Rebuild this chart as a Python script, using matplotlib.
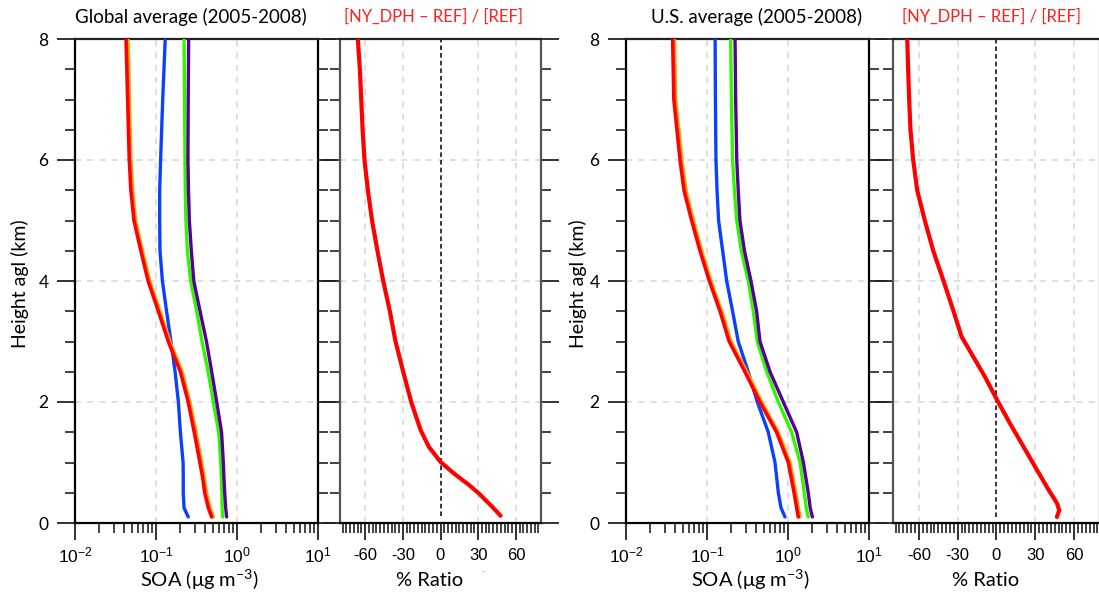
import math
import matplotlib
matplotlib.use("Agg")
import matplotlib.pyplot as plt
from matplotlib.ticker import FixedLocator, MultipleLocator, FuncFormatter, LogLocator, NullFormatter

plt.rcParams['font.family'] = ['Lato', 'DejaVu Sans']
plt.rcParams['mathtext.fontset'] = 'custom'
plt.rcParams['mathtext.rm'] = 'Lato'
plt.rcParams['mathtext.sf'] = 'Liberation Sans'
plt.rcParams['axes.unicode_minus'] = False

# ---------------- data ----------------
# Global average (2005-2008), SOA profiles (ug m-3)
glob_h = [0.1, 0.25, 0.5, 0.75, 1.0, 1.5, 2.0, 2.5, 3.0, 3.5, 4.0, 4.5, 5.0, 5.5, 6.0, 7.0, 8.0]
glob_blue = [0.25, 0.222, 0.217, 0.217, 0.216, 0.200, 0.189, 0.172, 0.153, 0.135, 0.120, 0.112, 0.111, 0.111, 0.114, 0.121, 0.130]
glob_red = [0.487, 0.443, 0.400, 0.377, 0.349, 0.297, 0.250, 0.200, 0.142, 0.107, 0.080, 0.065, 0.0535, 0.049, 0.0468, 0.0447, 0.0427]
glob_orange = [0.51, 0.465, 0.42, 0.395, 0.366, 0.312, 0.262, 0.210, 0.149, 0.112, 0.084, 0.068, 0.056, 0.0515, 0.049, 0.047, 0.0452]
glob_green = [0.666, 0.655, 0.650, 0.640, 0.630, 0.595, 0.510, 0.440, 0.370, 0.318, 0.268, 0.244, 0.234, 0.230, 0.228, 0.225, 0.222]
glob_purple = [0.745, 0.725, 0.705, 0.690, 0.678, 0.645, 0.562, 0.487, 0.420, 0.350, 0.293, 0.273, 0.258, 0.252, 0.248, 0.250, 0.253]

# Global ratio [NY_DPH - REF]/[REF] (%)
glob_ratio_h = [0.12, 0.27, 0.49, 0.63, 0.82, 1.01, 1.26, 1.54, 2.0, 2.5, 3.0, 3.5, 4.0, 4.5, 5.0, 5.5, 6.0, 6.5, 7.0, 7.5, 8.0]
glob_ratio = [47.8, 41.1, 30.5, 22.6, 10.6, 0.0, -9.3, -15.9, -23.3, -29.7, -35.8, -40.3, -45.6, -50.2, -54.5, -57.8, -60.5, -62.0, -63.1, -64.2, -65.8]

# U.S. average (2005-2008), SOA profiles (ug m-3)
us_h = [0.1, 0.25, 0.5, 1.0, 1.5, 2.0, 2.5, 3.0, 3.5, 4.0, 4.5, 5.0, 5.5, 6.0, 7.0, 8.0]
us_blue = [0.918, 0.82, 0.76, 0.691, 0.571, 0.418, 0.323, 0.243, 0.207, 0.175, 0.156, 0.139, 0.133, 0.129, 0.127, 0.126]
us_red = [1.34, 1.28, 1.19, 1.01, 0.724, 0.451, 0.294, 0.188, 0.145, 0.107, 0.082, 0.0647, 0.052, 0.0465, 0.039, 0.0377]
us_orange = [1.41, 1.34, 1.25, 1.06, 0.76, 0.475, 0.31, 0.198, 0.152, 0.112, 0.086, 0.068, 0.055, 0.049, 0.041, 0.0397]
us_green = [1.78, 1.68, 1.59, 1.41, 1.11, 0.76, 0.546, 0.418, 0.373, 0.323, 0.265, 0.233, 0.218, 0.207, 0.200, 0.196]
us_purple = [2.0, 1.88, 1.78, 1.55, 1.28, 0.875, 0.60, 0.451, 0.41, 0.349, 0.29, 0.255, 0.243, 0.233, 0.226, 0.222]

# U.S. ratio (%)
us_ratio_h = [0.1, 0.21, 0.33, 0.55, 0.88, 1.26, 1.65, 2.0, 2.42, 2.75, 3.08, 3.52, 3.85, 4.1, 4.5, 5.0, 5.5, 6.0, 6.5, 7.0, 7.5, 8.0]
us_ratio = [46.7, 48.5, 46.7, 40.2, 31.2, 20.9, 10.3, 1.3, -9.0, -18.0, -27.0, -33.5, -38.6, -42.5, -48.9, -55.4, -61.3, -64.4, -66.5, -67.5, -68.3, -69.0]

ytick_vals = [0, 2, 4, 6, 8]
ratio_ticks = [-60, -30, 0, 30, 60]
soa_ticks = [0.01, 0.1, 1, 10]

titles = ["Global average (2005-2008)", "U.S. average (2005-2008)"]
ratio_title = "[NY_DPH \u2013 REF] / [REF]"

# ---------------- styling ----------------
C_BLUE = '#0a40ff'
C_RED = '#ff0000'
C_ORANGE = '#ffa500'
C_GREEN = '#33f500'
C_PURPLE = '#55009a'
GRID = '#d6d6d6'

W, H = 1099, 596
fig = plt.figure(figsize=(W / 100, H / 100), dpi=100)

def fx(px):
    return px / W

def fy(py):
    return 1 - py / H

top, bot = 39, 523

def style_common(ax, spine_col):
    ax.set_ylim(0, 8)
    ax.yaxis.set_major_locator(FixedLocator(ytick_vals))
    ax.yaxis.set_minor_locator(MultipleLocator(0.5))
    ax.tick_params(axis='y', which='both', direction='out', left=True, right=True, color='#222222')
    ax.tick_params(axis='y', which='major', length=13, width=1.3)
    ax.tick_params(axis='y', which='minor', length=7, width=1.2)
    ax.tick_params(axis='x', which='both', direction='out', top=False, bottom=True, color='#222222')
    ax.tick_params(axis='x', which='major', length=12, width=1.3, pad=4)
    ax.tick_params(axis='x', which='minor', length=7, width=1.2)
    for s in ax.spines.values():
        s.set_linewidth(1.6)
        s.set_color(spine_col)
    ax.spines['bottom'].set_color('black')
    ax.spines['top'].set_color('#222222')
    for y in [2, 4, 6]:
        ax.axhline(y, color=GRID, lw=1.1, ls=(0, (4, 4)), zorder=0)

def log_label(v, p):
    return r'$\mathsf{10^{%d}}$' % round(math.log10(v))

def soa_panel(left, right, h, blue, orange, red, green, purple, ylab_x):
    ax = fig.add_axes([fx(left), fy(bot), fx(right - left), (bot - top) / H])
    ax.set_xscale('log')
    ax.set_xlim(0.01, 10)
    style_common(ax, 'black')
    ax.xaxis.set_major_locator(FixedLocator(soa_ticks))
    ax.xaxis.set_minor_locator(LogLocator(base=10, subs=[2, 3, 4, 5, 6, 7, 8, 9]))
    ax.xaxis.set_minor_formatter(NullFormatter())
    ax.xaxis.set_major_formatter(FuncFormatter(log_label))
    ax.tick_params(axis='x', labelsize=12.5)
    ax.tick_params(axis='y', labelsize=12.5, pad=6)
    for xv in [0.1, 1]:
        ax.axvline(xv, color=GRID, lw=1.1, ls=(0, (4, 4)), zorder=0)
    ax.plot(blue, h, color=C_BLUE, lw=2.4, solid_capstyle='round', zorder=3)
    ax.plot(green, h, color=C_GREEN, lw=2.4, solid_capstyle='round', zorder=3)
    ax.plot(purple, h, color=C_PURPLE, lw=2.4, solid_capstyle='round', zorder=3)
    ax.plot(orange, h, color=C_ORANGE, lw=2.4, solid_capstyle='round', zorder=3)
    ax.plot(red, h, color=C_RED, lw=2.6, solid_capstyle='round', zorder=4)
    fig.text(fx((left + right) / 2 + 3), fy(580), 'SOA (\u03bcg m$^{-3}$)', ha='center', va='center', fontsize=14.5)
    fig.text(fx(ylab_x), fy(284), 'Height agl (km)', ha='center', va='center', rotation=90, fontsize=14)
    return ax

def ratio_panel(left, right, h, r, z0):
    ax = fig.add_axes([fx(left), fy(bot), fx(right - left), (bot - top) / H])
    ax.set_xlim(-80, 80)
    style_common(ax, '#555555')
    ax.xaxis.set_major_locator(FixedLocator(ratio_ticks))
    ax.xaxis.set_minor_locator(MultipleLocator(3))
    ax.tick_params(axis='x', labelsize=12, labelfontfamily='Liberation Sans', pad=6)
    ax.tick_params(axis='y', labelleft=False)
    for xv in [-60, -30, 30, 60]:
        ax.axvline(xv, color=GRID, lw=1.1, ls=(0, (4, 4)), zorder=0)
    ax.plot([0, 0], [z0, 8], color='black', lw=1.1, ls=(0, (3, 2)), zorder=2)
    ax.plot(r, h, color=C_RED, lw=3.0, solid_capstyle='round', zorder=4)
    fig.text(fx((left + right) / 2 - 11), fy(580), '% Ratio', ha='center', va='center', fontsize=14.5)
    return ax

ax1 = soa_panel(75, 318, glob_h, glob_blue, glob_orange, glob_red, glob_green, glob_purple, 20)
ax2 = ratio_panel(340, 541, glob_ratio_h, glob_ratio, 0.12)
ax3 = soa_panel(626, 869, us_h, us_blue, us_orange, us_red, us_green, us_purple, 578)
ax4 = ratio_panel(893, 1100, us_ratio_h, us_ratio, 0.1)

fig.text(fx(191), fy(17), titles[0], ha='center', va='center', fontsize=13.5)
fig.text(fx(434), fy(17), ratio_title, ha='center', va='center', fontsize=12, color='#ff2020')
fig.text(fx(757), fy(17), titles[1], ha='center', va='center', fontsize=13.5)
fig.text(fx(992), fy(17), ratio_title, ha='center', va='center', fontsize=12, color='#ff2020')
fig.text(fx(483), fy(572), '-', ha='center', va='center', fontsize=6, color='#777777')

fig.savefig('out.png', dpi=100)
